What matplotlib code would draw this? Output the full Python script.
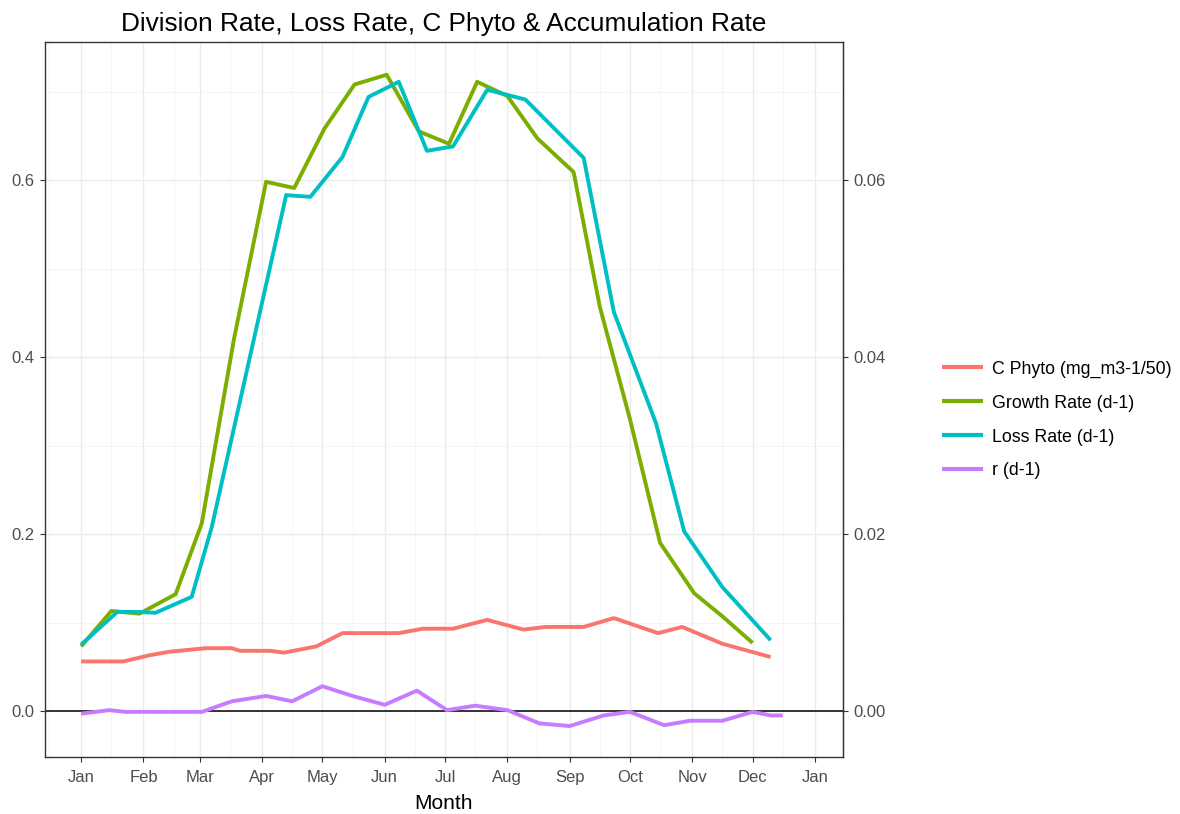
import datetime as dt
import matplotlib
matplotlib.use("Agg")
import matplotlib.pyplot as plt
import matplotlib.dates as mdates
from matplotlib.ticker import FixedLocator, FormatStrFormatter

plt.rcParams['font.family'] = ['Liberation Sans', 'DejaVu Sans']

# days after 1 Jan for each sample, and the values
phyto_days = [0, 21, 34, 44, 62, 75, 79, 94, 101, 117, 130, 158, 170, 185, 202, 220, 231, 250, 265, 287, 299, 319, 343]
phyto_vals = [0.056, 0.056, 0.063, 0.067, 0.071, 0.071, 0.068, 0.068, 0.066, 0.073, 0.088, 0.088, 0.093, 0.093,
              0.103, 0.092, 0.095, 0.095, 0.105, 0.088, 0.095, 0.076, 0.061]

growth_days = [0, 15, 29, 47, 60, 76, 92, 106, 121, 136, 152, 168, 183, 197, 212, 227, 245, 258, 273, 288, 305, 319, 334]
growth_vals = [0.073, 0.113, 0.110, 0.132, 0.212, 0.42, 0.598, 0.591, 0.658, 0.708, 0.719, 0.655, 0.641, 0.711,
               0.695, 0.647, 0.609, 0.457, 0.33, 0.19, 0.133, 0.107, 0.077]

loss_days = [0, 18, 27, 37, 55, 65, 102, 114, 130, 143, 158, 172, 185, 202, 221, 250, 265, 286, 300, 319, 343]
loss_vals = [0.075, 0.112, 0.112, 0.111, 0.129, 0.208, 0.583, 0.581, 0.626, 0.694, 0.711, 0.633, 0.638, 0.702,
             0.691, 0.625, 0.451, 0.325, 0.203, 0.140, 0.080]

r_days = [0, 14, 22, 60, 75, 92, 105, 120, 135, 151, 167, 182, 196, 212, 228, 243, 260, 273, 290, 303, 319, 334, 343, 349]
r_vals = [-0.003, 0.001, -0.001, -0.001, 0.011, 0.017, 0.011, 0.028, 0.017, 0.007, 0.023, 0.001, 0.006, 0.001,
          -0.014, -0.017, -0.005, -0.001, -0.016, -0.011, -0.011, -0.001, -0.005, -0.005]

series_names = ['C Phyto (mg_m3-1/50)', 'Growth Rate (d-1)', 'Loss Rate (d-1)', 'r (d-1)']
series_colors = ['#F8766D', '#7CAE00', '#00BFC4', '#C77CFF']

start = dt.date(2019, 1, 1)


def to_dates(days):
    return [start + dt.timedelta(days=d) for d in days]


fig = plt.figure(figsize=(11.8, 8.14), dpi=100)
ax = fig.add_axes([0.0381, 0.07, 0.6763, 0.8784])

all_series = [(phyto_days, phyto_vals), (growth_days, growth_vals), (loss_days, loss_vals), (r_days, r_vals)]
for (d, v), name, col in zip(all_series, series_names, series_colors):
    ax.plot(to_dates(d), v, color=col, lw=2.8, label=name, solid_capstyle='butt', zorder=3)

ax.axhline(0, color='black', lw=1.1, zorder=2)

ax.set_xlim(start - dt.timedelta(days=18.3), start + dt.timedelta(days=379))
ax.set_ylim(-0.052, 0.756)

# x axis: months
ax.xaxis.set_major_locator(mdates.MonthLocator())
ax.xaxis.set_major_formatter(mdates.DateFormatter('%b'))
ax.xaxis.set_minor_locator(mdates.MonthLocator(bymonthday=16))
ax.yaxis.set_major_locator(FixedLocator([0, 0.2, 0.4, 0.6]))
ax.yaxis.set_minor_locator(FixedLocator([0.1, 0.3, 0.5, 0.7]))
ax.yaxis.set_major_formatter(FormatStrFormatter('%.1f'))

ax.grid(which='major', color='#EBEBEB', lw=1.0, zorder=0)
ax.grid(which='minor', color='#F2F2F2', lw=0.6, zorder=0)
ax.set_axisbelow(True)

for s in ax.spines.values():
    s.set_color('#333333')
    s.set_linewidth(1.0)

ax.tick_params(which='major', length=3.5, color='#333333', labelcolor='#4D4D4D', labelsize=12, pad=4)
ax.tick_params(axis='x', which='major', pad=6)
ax.tick_params(which='minor', length=0)

sec = ax.secondary_yaxis('right', functions=(lambda y: y / 10, lambda y: y * 10))
sec.yaxis.set_major_locator(FixedLocator([0, 0.02, 0.04, 0.06]))
sec.yaxis.set_major_formatter(FormatStrFormatter('%.2f'))
sec.tick_params(length=3.5, color='#333333', labelcolor='#4D4D4D', labelsize=12, pad=4)
sec.spines['right'].set_color('#333333')

ax.set_xlabel('Month', fontsize=15, color='black', labelpad=6)
ax.set_title('Division Rate, Loss Rate, C Phyto & Accumulation Rate', fontsize=18.9, pad=8)

leg = fig.legend(loc='center left', bbox_to_anchor=(0.785, 0.484), frameon=False,
                 fontsize=12.8, handlelength=2.3, handletextpad=0.5, labelspacing=0.95)
for line in leg.get_lines():
    line.set_linewidth(3)

fig.savefig('out.png', dpi=100)
